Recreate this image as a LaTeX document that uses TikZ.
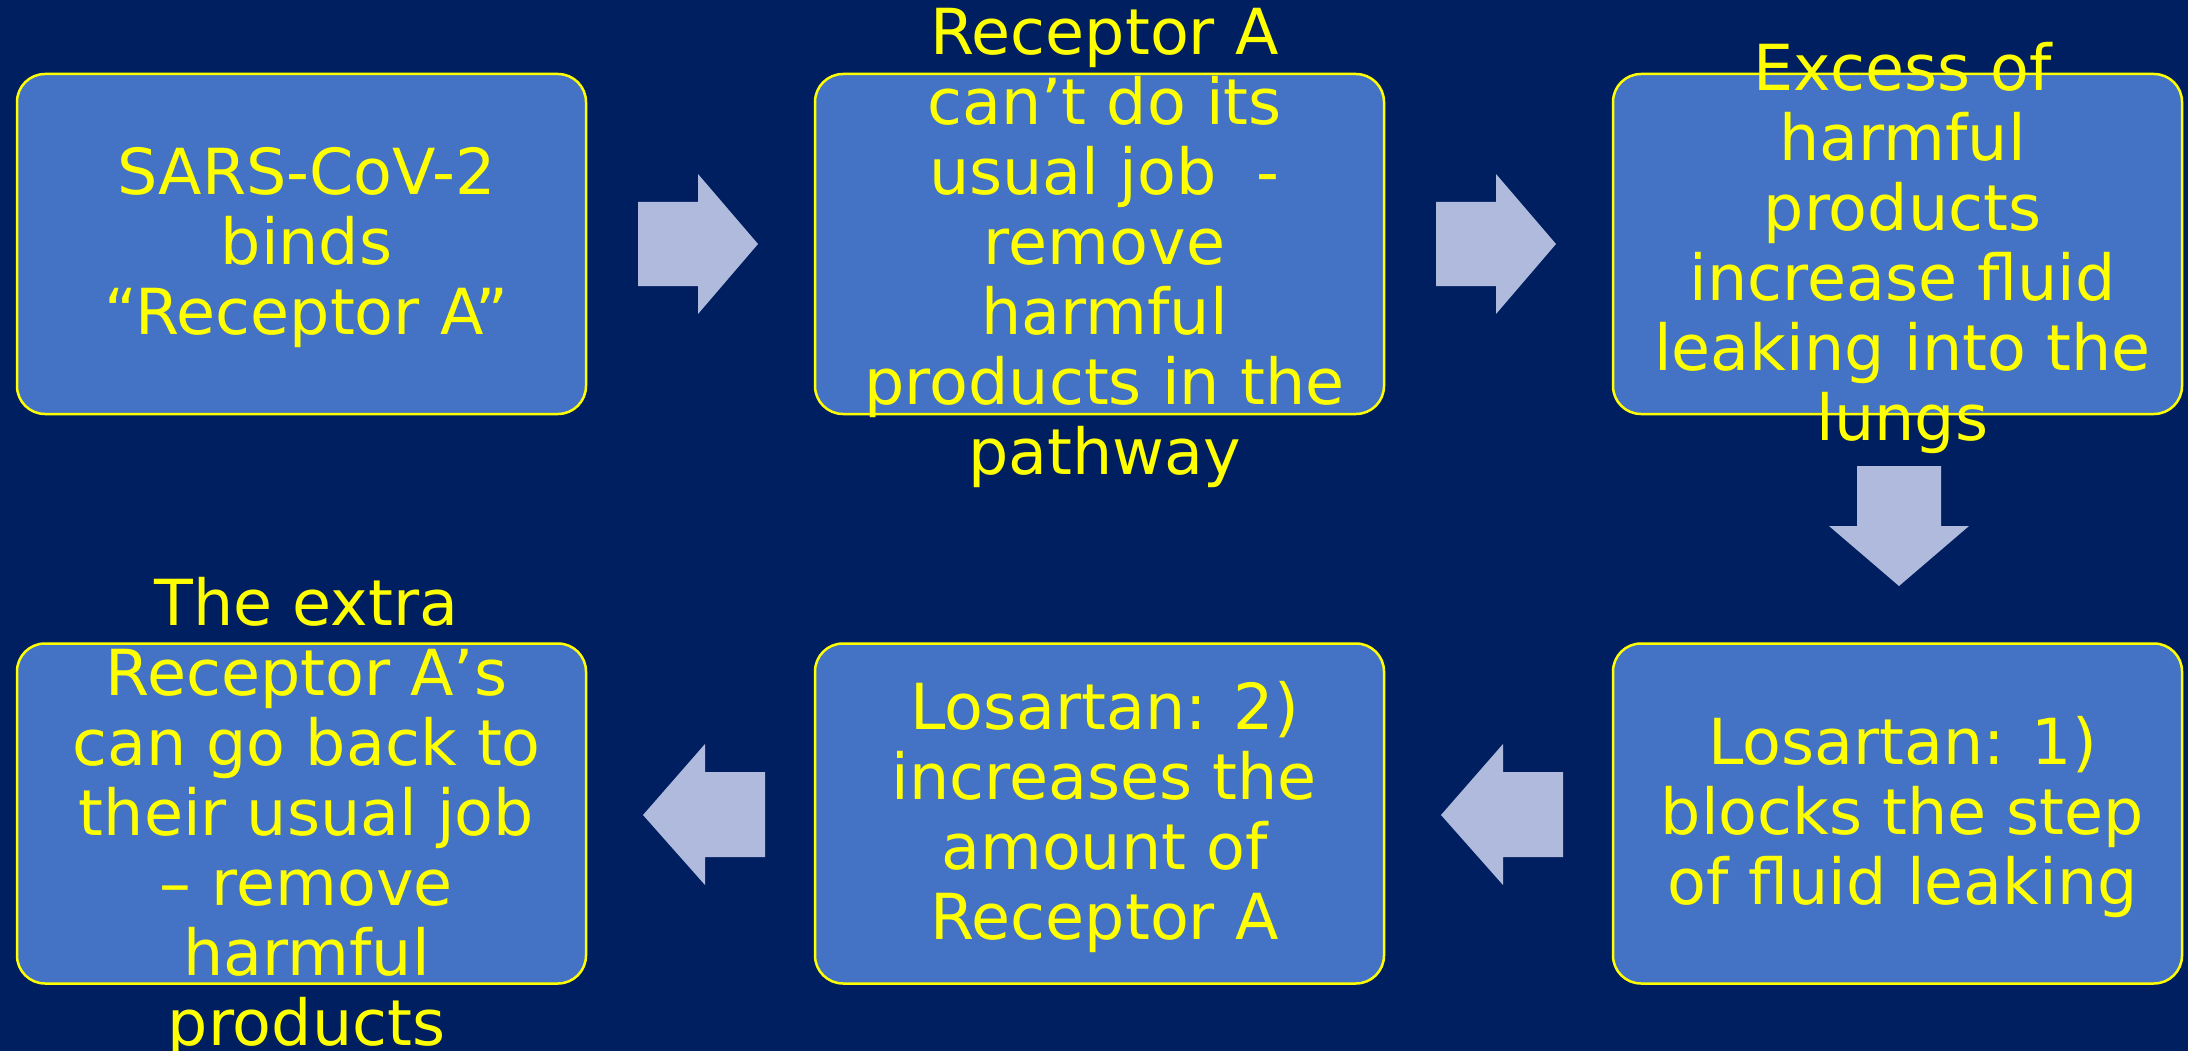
\documentclass[tikz,border=0pt]{standalone}
\usepackage{fontspec}
\setmainfont{DejaVu Sans}
\definecolor{bgblue}{RGB}{0,31,96}
\definecolor{boxblue}{RGB}{68,114,196}
\definecolor{txtyellow}{RGB}{255,255,0}
\definecolor{arrowfill}{RGB}{176,186,220}
\begin{document}
\begin{tikzpicture}[x=1pt,y=-1pt,
  stepbox/.style={draw=txtyellow, line width=2.5pt, fill=boxblue, rounded corners=28pt,
    minimum width=569pt, minimum height=340pt, inner sep=0pt},
  steptext/.style={text=txtyellow, align=center, inner sep=0pt, xshift=5pt, yshift=-4pt,
    font=\fontsize{63.5}{70}\selectfont},
  blockarrow/.style={fill=arrowfill, draw=none}]
\fill[bgblue] (0,0) rectangle (2188,1051);
\useasboundingbox (0,0) rectangle (2188,1051);

\node[stepbox] (b1) at (301.5,244) {};
\node[stepbox] (b2) at (1099.5,244) {};
\node[stepbox] (b3) at (1897.5,244) {};
\node[stepbox] (b4) at (301.5,813.5) {};
\node[stepbox] (b5) at (1099.5,813.5) {};
\node[stepbox] (b6) at (1897.5,813.5) {};

\node[steptext] (t1) at (b1.center) {SARS-CoV-2\\binds\\“Receptor A”};
\node[steptext] (t2) at (b2.center) {Receptor A\\can’t do its\\usual job~~-\\remove\\harmful\\products in the\\pathway};
\node[steptext] (t3) at (b3.center) {Excess of\\harmful\\products\\increase fluid\\leaking into the\\lungs};
\node[steptext] (t4) at (b4.center) {The extra\\Receptor A’s\\can go back to\\their usual job\\– remove\\harmful\\products};
\node[steptext] (t5) at (b5.center) {Losartan: 2)\\increases the\\amount of\\Receptor A};
\node[steptext] (t6) at (b6.center) {Losartan: 1)\\blocks the step\\of fluid leaking};

% right arrows
\fill[blockarrow] (638,202) -- (698,202) -- (698,174) -- (758,244) -- (698,314) -- (698,286) -- (638,286) -- cycle;
\fill[blockarrow] (1436,202) -- (1496,202) -- (1496,174) -- (1556,244) -- (1496,314) -- (1496,286) -- (1436,286) -- cycle;
% down arrow
\fill[blockarrow] (1857,466) -- (1941,466) -- (1941,526) -- (1969,526) -- (1899,586) -- (1829,526) -- (1857,526) -- cycle;
% left arrows
\fill[blockarrow] (1563,772) -- (1503,772) -- (1503,744) -- (1441,815) -- (1503,885) -- (1503,857) -- (1563,857) -- cycle;
\fill[blockarrow] (765,772) -- (705,772) -- (705,744) -- (643,815) -- (705,885) -- (705,857) -- (765,857) -- cycle;
\end{tikzpicture}
\end{document}
